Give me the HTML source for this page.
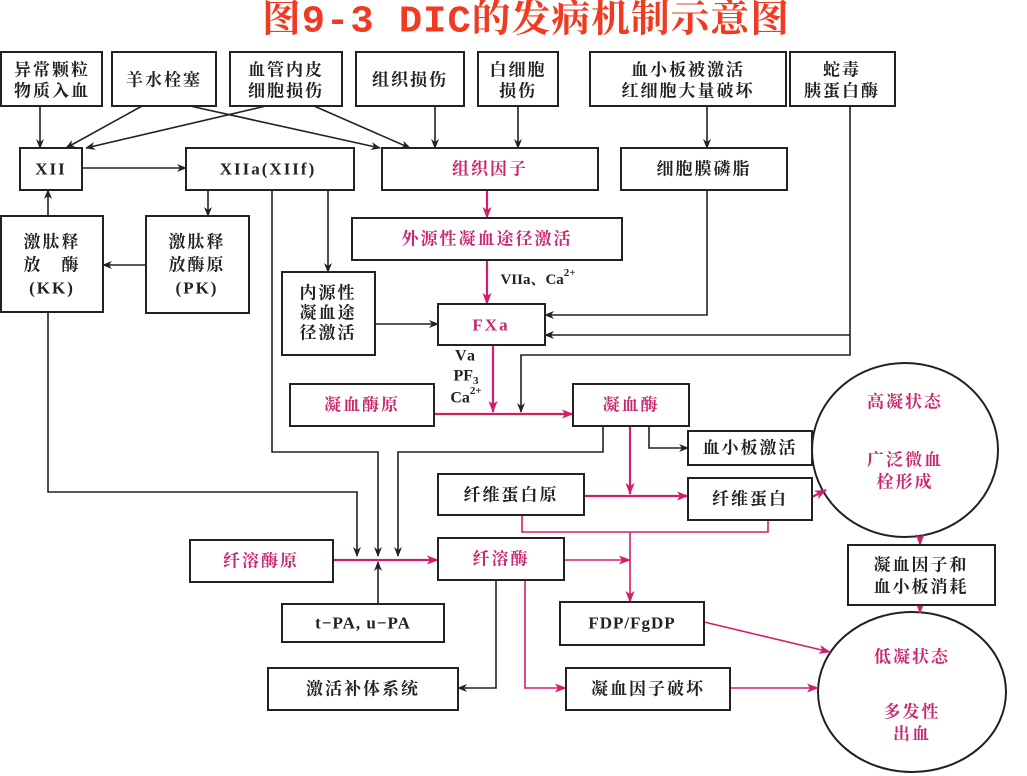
<!DOCTYPE html>
<html><head><meta charset="utf-8"><style>
html,body{margin:0;padding:0;background:#fff}
svg{display:block}
text{font-family:"Liberation Serif","Noto Serif CJK SC","Noto Sans CJK SC",serif;font-size:17px;font-weight:bold;letter-spacing:2px;fill:#222;text-anchor:middle;dominant-baseline:central}
.m{fill:#c8286e}
rect{fill:#fff;stroke:#222;stroke-width:2}
.k{stroke:#222;stroke-width:1.6;fill:none}
.p{stroke:#d0206a;stroke-width:2.2;fill:none}
</style></head><body>
<svg width="1027" height="776" viewBox="0 0 1027 776">
<defs>
<marker id="ak" markerWidth="10" markerHeight="8" refX="9" refY="4" orient="auto" markerUnits="userSpaceOnUse"><path d="M0,0 L10,4 L0,8 L3,4z" fill="#222"/></marker>
<marker id="ap" markerWidth="12" markerHeight="9" refX="11" refY="4.5" orient="auto" markerUnits="userSpaceOnUse"><path d="M0,0 L12,4.5 L0,9 L3,4.5z" fill="#d0206a"/></marker>
</defs>
<text x="526" y="22" style="font-size:38px;font-weight:bold;letter-spacing:1px;fill:#f03a22;font-family:'Liberation Mono','Noto Serif CJK SC',serif" textLength="528" lengthAdjust="spacingAndGlyphs">图9-3  DIC的发病机制示意图</text>

<ellipse cx="905" cy="450" rx="93" ry="87" fill="#fff" stroke="#222" stroke-width="2"/>
<ellipse cx="912" cy="692" rx="94" ry="80" fill="#fff" stroke="#222" stroke-width="2"/>

<!-- black connectors -->
<g class="k">
<path d="M40,106 V148" marker-end="url(#ak)"/>
<path d="M142,106 L66,148" marker-end="url(#ak)"/>
<path d="M190,106 L380,148" marker-end="url(#ak)"/>
<path d="M266,106 L86,148" marker-end="url(#ak)"/>
<path d="M314,106 L410,148" marker-end="url(#ak)"/>
<path d="M435,106 V148" marker-end="url(#ak)"/>
<path d="M518,106 V148" marker-end="url(#ak)"/>
<path d="M707,106 V148" marker-end="url(#ak)"/>
<path d="M82,168 H186" marker-end="url(#ak)"/>
<path d="M208,190 V216" marker-end="url(#ak)"/>
<path d="M146,265 H103" marker-end="url(#ak)"/>
<path d="M48,216 V190" marker-end="url(#ak)"/>
<path d="M328,190 V272" marker-end="url(#ak)"/>
<path d="M375,324 H438" marker-end="url(#ak)"/>
<path d="M707,190 V315 H545" marker-end="url(#ak)"/>
<path d="M850,106 V355 H521 V412" marker-end="url(#ak)"/>
<path d="M850,335 H545" marker-end="url(#ak)"/>
<path d="M272,190 V452 H378 V556" marker-end="url(#ak)"/>
<path d="M48,312 V492 H357 V556" marker-end="url(#ak)"/>
<path d="M603,426 V452 H398 V556" marker-end="url(#ak)"/>
<path d="M378,642 V562" marker-end="url(#ak)"/>
<path d="M649,426 V448 H688" marker-end="url(#ak)"/>
<path d="M496,580 V688 H458" marker-end="url(#ak)"/>
</g>
<!-- pink connectors -->
<g class="p">
<path d="M487,190 V218" marker-end="url(#ap)"/>
<path d="M487,260 V304" marker-end="url(#ap)"/>
<path d="M493,345 V412" marker-end="url(#ap)"/>
<path d="M434,414 H573" marker-end="url(#ap)"/>
<path d="M630,426 V494" marker-end="url(#ap)"/>
<path d="M584,496 H688" marker-end="url(#ap)"/>
<path d="M812,448 H813" marker-end="url(#ap)"/>
<path d="M812,497 L826,490" marker-end="url(#ap)"/>
<path d="M522,515 V532 H768 V520" style="stroke-width:1.6"/>
<path d="M630,532 V602" marker-end="url(#ap)" style="stroke-width:1.6"/>
<path d="M333,560 H438" marker-end="url(#ap)"/>
<path d="M564,560 H630" marker-end="url(#ap)" style="stroke-width:1.6"/>
<path d="M525,580 V688 H566" marker-end="url(#ap)" style="stroke-width:1.6"/>
<path d="M704,622 L830,652" marker-end="url(#ap)" style="stroke-width:1.6"/>
<path d="M730,688 H818" marker-end="url(#ap)" style="stroke-width:1.6"/>
<path d="M920,537 V545" marker-end="url(#ap)"/>
<path d="M920,605 V613" marker-end="url(#ap)"/>
</g>

<!-- boxes -->
<rect x="1" y="52" width="101" height="54"/><text x="52" y="70">异常颗粒</text><text x="52" y="91">物质入血</text>
<rect x="112" y="52" width="104" height="54"/><text x="164" y="80">羊水栓塞</text>
<rect x="230" y="52" width="112" height="54"/><text x="286" y="70">血管内皮</text><text x="286" y="91">细胞损伤</text>
<rect x="356" y="52" width="108" height="54"/><text x="410" y="80">组织损伤</text>
<rect x="478" y="52" width="80" height="54"/><text x="518" y="70">白细胞</text><text x="518" y="91">损伤</text>
<rect x="590" y="52" width="196" height="54"/><text x="688" y="70">血小板被激活</text><text x="688" y="91">红细胞大量破坏</text>
<rect x="790" y="52" width="105" height="54"/><text x="842" y="70">蛇毒</text><text x="842" y="91">胰蛋白酶</text>

<rect x="20" y="148" width="62" height="42"/><text x="51" y="169">XII</text>
<rect x="186" y="148" width="168" height="42"/><text x="268" y="169">XIIa(XIIf)</text>
<rect x="382" y="148" width="216" height="42"/><text x="490" y="169" class="m">组织因子</text>
<rect x="621" y="148" width="166" height="42"/><text x="704" y="169">细胞膜磷脂</text>

<rect x="1" y="216" width="102" height="96"/><text x="52" y="242">激肽释</text><text x="52" y="265">放　酶</text><text x="52" y="288">(KK)</text>
<rect x="146" y="216" width="103" height="97"/><text x="197" y="242">激肽释</text><text x="197" y="265">放酶原</text><text x="197" y="288">(PK)</text>
<rect x="352" y="218" width="270" height="42"/><text x="487" y="239" class="m">外源性凝血途径激活</text>
<text x="538" y="280" style="font-size:15px;letter-spacing:0">VIIa、Ca<tspan dy="-7" style="font-size:11px">2+</tspan></text>
<rect x="282" y="272" width="93" height="83"/><text x="328" y="293">内源性</text><text x="328" y="313">凝血途</text><text x="328" y="333">径激活</text>
<rect x="438" y="304" width="107" height="41"/><text x="491" y="325" class="m">FXa</text>
<text x="466" y="356" style="font-size:16px">Va</text>
<text x="466" y="376" style="font-size:16px;letter-spacing:0">PF<tspan dy="5" style="font-size:11px">3</tspan></text>
<text x="466" y="398" style="font-size:16px;letter-spacing:0">Ca<tspan dy="-7" style="font-size:11px">2+</tspan></text>
<rect x="290" y="384" width="144" height="42"/><text x="362" y="405" class="m">凝血酶原</text>
<rect x="573" y="384" width="116" height="42"/><text x="631" y="405" class="m">凝血酶</text>
<rect x="688" y="431" width="124" height="34"/><text x="750" y="448">血小板激活</text>
<rect x="438" y="474" width="146" height="41"/><text x="511" y="495">纤维蛋白原</text>
<rect x="688" y="478" width="124" height="42"/><text x="750" y="499">纤维蛋白</text>
<rect x="190" y="540" width="143" height="42"/><text x="261" y="561" class="m">纤溶酶原</text>
<rect x="438" y="538" width="126" height="42"/><text x="501" y="559" class="m">纤溶酶</text>
<rect x="282" y="604" width="162" height="38"/><text x="363" y="623" style="letter-spacing:1px">t−PA, u−PA</text>
<rect x="560" y="602" width="144" height="43"/><text x="632" y="623" style="letter-spacing:1px">FDP/FgDP</text>
<rect x="268" y="668" width="190" height="42"/><text x="363" y="689">激活补体系统</text>
<rect x="566" y="668" width="164" height="42"/><text x="648" y="689">凝血因子破坏</text>
<rect x="848" y="545" width="147" height="60"/><text x="921" y="565">凝血因子和</text><text x="921" y="587">血小板消耗</text>

<text x="905" y="402" class="m">高凝状态</text>
<text x="905" y="460" class="m">广泛微血</text>
<text x="905" y="482" class="m">栓形成</text>
<text x="912" y="657" class="m">低凝状态</text>
<text x="912" y="712" class="m">多发性</text>
<text x="912" y="734" class="m">出血</text>
</svg>
</body></html>
